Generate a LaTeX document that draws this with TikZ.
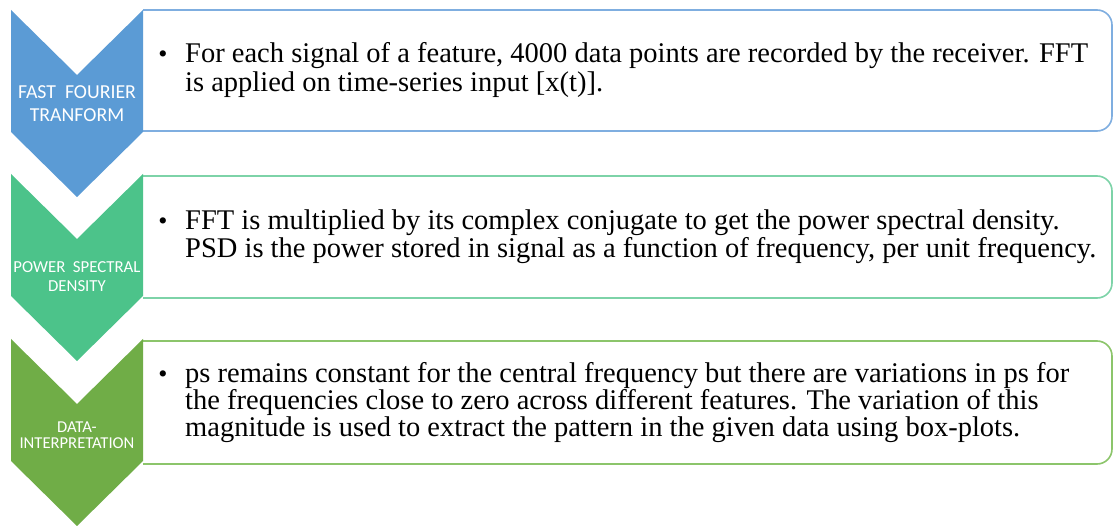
\documentclass[tikz,border=0pt]{standalone}
\usepackage{fontspec}
\setmainfont{Liberation Serif}
\newfontfamily\labelfont{Carlito}
\definecolor{fftblue}{HTML}{5B9BD5}
\definecolor{fftline}{HTML}{7FAEE0}
\definecolor{psdgreen}{HTML}{4CC38A}
\definecolor{psdline}{HTML}{7DD3A8}
\definecolor{datgreen}{HTML}{70AD47}
\definecolor{datline}{HTML}{8CC56B}
\tikzset{
  chevron/.style={fill=#1, draw=none},
  stagebox/.style={draw=#1, line width=1.6pt, rounded corners=15pt, fill=white},
  stagelabel/.style={text=white, font=\labelfont, align=center, inner sep=0pt},
  bulletmark/.style={anchor=base, inner sep=0pt, font=\fontsize{26}{29}\selectfont},
  bodytext/.style={anchor=base west, inner sep=0pt}
}
\begin{document}
\begin{tikzpicture}[x=1pt, y=-1pt]
\useasboundingbox (0,0) rectangle (1113,526);
\fill[white] (0,0) rectangle (1113,526);

% outlined text panels, open on the left where the chevrons sit
\draw[stagebox=fftline] (143,10) -- (1112,10) -- (1112,131) -- (143,131);
\draw[stagebox=psdline] (143,176) -- (1112,176) -- (1112,298) -- (143,298);
\draw[stagebox=datline] (143,341) -- (1112,341) -- (1112,464) -- (143,464);

% chevrons: notch 65 deep, straight sides 122 long, tip 65 below the sides
\foreach \t/\c in {10/fftblue, 174/psdgreen, 339/datgreen}{
  \fill[chevron=\c] (11,\t) -- (77,\t+65) -- (143,\t) -- (143,\t+122)
        -- (77,\t+187) -- (11,\t+122) -- cycle;
}

% stage labels
\node[stagelabel, font=\labelfont\fontsize{19.8}{23}\selectfont] (lab1) at (77,103.5)
  {FAST\ \ FOURIER\\TRANFORM};
\node[stagelabel, font=\labelfont\fontsize{16.8}{19}\selectfont] (lab2) at (77,276.5)
  {POWER\ \ SPECTRAL\\DENSITY};
\node[stagelabel, font=\labelfont\fontsize{16.6}{16.5}\selectfont] (lab3) at (77,435)
  {DATA-\\INTERPRETATION};

% bullets
\node[bulletmark] (b1) at (163,63) {\textbullet};
\node[bulletmark] (b2) at (163,230) {\textbullet};
\node[bulletmark] (b3) at (163,382) {\textbullet};

% panel texts
\node[bodytext] (t1) at (185,63) {\parbox[t]{925pt}{\fontsize{28.5}{29}\selectfont\raggedright
  For each signal of a feature, 4000 data points are recorded by the receiver. FFT\\
  is applied on time-series input [x(t)].}};
\node[bodytext] (t2) at (185,230) {\parbox[t]{925pt}{\fontsize{28.5}{28}\selectfont\raggedright
  FFT is multiplied by its complex conjugate to get the power spectral density.\\
  PSD is the power stored in signal as a function of frequency, per unit frequency.}};
\node[bodytext] (t3) at (185,382) {\parbox[t]{925pt}{\fontsize{28.5}{25}\selectfont\raggedright
  ps remains constant for the central frequency but there are variations in ps for\\
  the frequencies close to zero across different features. The variation of this\\
  magnitude is used to extract the pattern in the given data using box-plots.}};
\end{tikzpicture}
\end{document}
